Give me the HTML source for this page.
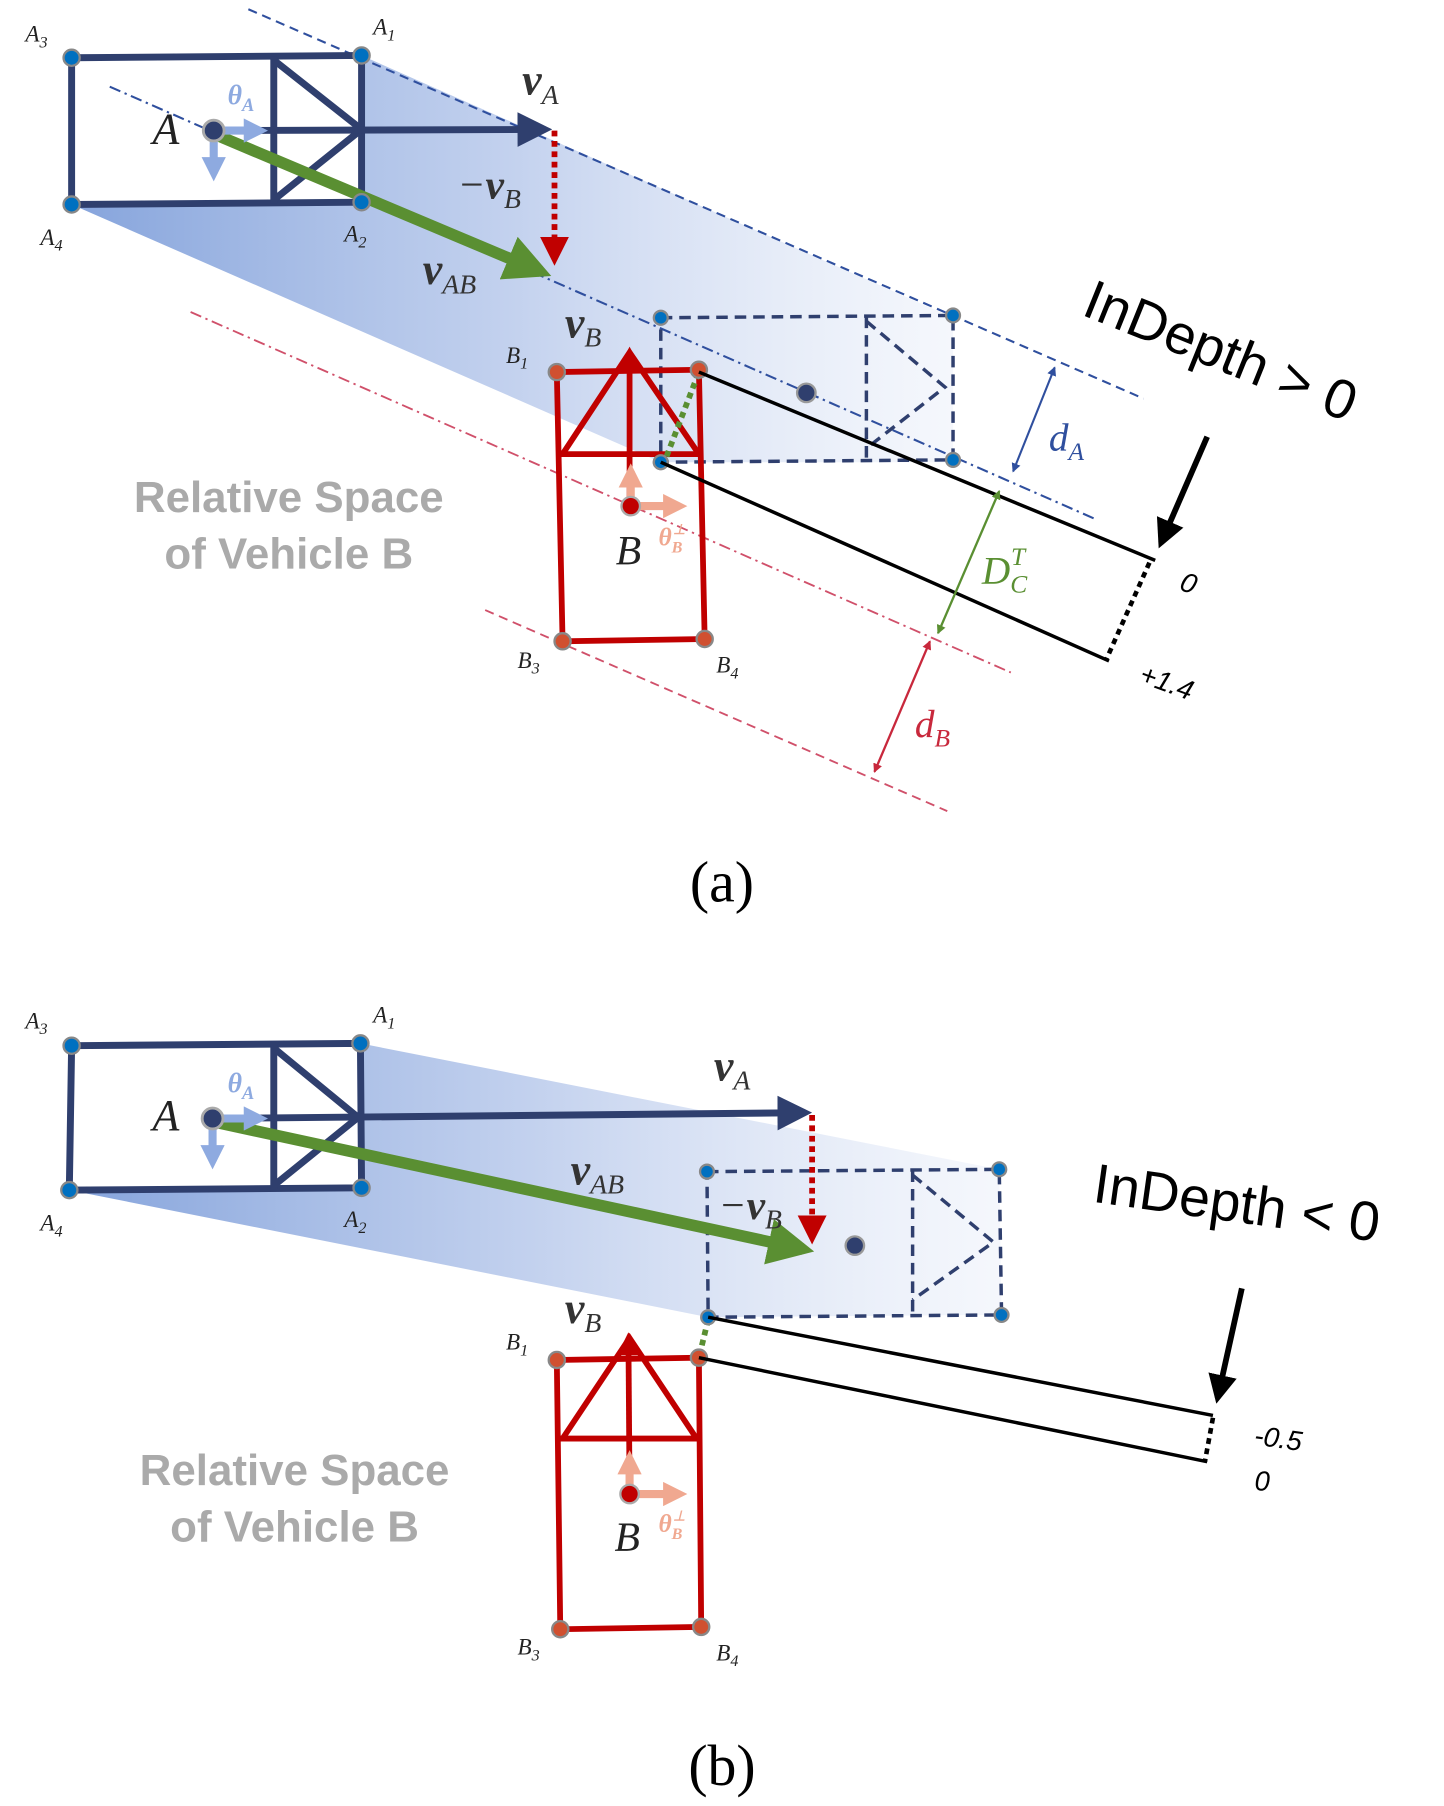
<!DOCTYPE html>
<html><head><meta charset="utf-8"><style>
html,body{margin:0;padding:0;background:#fff;}
svg{display:block;}
text{font-family:"Liberation Serif",serif;}
.s{font-family:"Liberation Sans",sans-serif;}
</style></head><body>
<svg width="1444" height="1806" viewBox="0 0 1250 1563" preserveAspectRatio="none" xmlns="http://www.w3.org/2000/svg">
<defs>
<linearGradient id="ga" x1="0" y1="0" x2="1" y2="0">
<stop offset="0" stop-color="#7f9fda" stop-opacity="0.95"/>
<stop offset="0.5" stop-color="#b4c6ea" stop-opacity="0.8"/>
<stop offset="1" stop-color="#e6ecf8" stop-opacity="0.4"/>
</linearGradient>
<marker id="mNavy" markerWidth="5" markerHeight="5" refX="4" refY="2.5" orient="auto" markerUnits="strokeWidth"><path d="M0,0 L5,2.5 L0,5z" fill="#2f3f6e"/></marker>
<marker id="mGreen" markerWidth="4" markerHeight="4" refX="3" refY="2" orient="auto" markerUnits="strokeWidth"><path d="M0,0 L4,2 L0,4z" fill="#5a8f32"/></marker>
<marker id="mRed" markerWidth="5" markerHeight="5" refX="4" refY="2.5" orient="auto" markerUnits="strokeWidth"><path d="M0,0 L5,2.5 L0,5z" fill="#c00000"/></marker>
<marker id="mRedB" markerWidth="4" markerHeight="4" refX="3" refY="2" orient="auto" markerUnits="strokeWidth"><path d="M0,0 L4,2 L0,4z" fill="#c00000"/></marker>
<marker id="mLb" markerWidth="3" markerHeight="3" refX="2" refY="1.5" orient="auto" markerUnits="strokeWidth"><path d="M0,0 L3,1.5 L0,3z" fill="#8eaae0"/></marker>
<marker id="mPk" markerWidth="3" markerHeight="3" refX="2" refY="1.5" orient="auto" markerUnits="strokeWidth"><path d="M0,0 L3,1.5 L0,3z" fill="#f0a890"/></marker>
<marker id="mBlk" markerWidth="5" markerHeight="5" refX="4" refY="2.5" orient="auto" markerUnits="strokeWidth"><path d="M0,0 L5,2.5 L0,5z" fill="#000"/></marker>
<marker id="dBlue" markerWidth="8" markerHeight="8" refX="7" refY="4" orient="auto-start-reverse" markerUnits="userSpaceOnUse"><path d="M0,0 L8,4 L0,8z" fill="#2f4f9e"/></marker>
<marker id="dGreen" markerWidth="8" markerHeight="8" refX="7" refY="4" orient="auto-start-reverse" markerUnits="userSpaceOnUse"><path d="M0,0 L8,4 L0,8z" fill="#5a8f32"/></marker>
<marker id="dRed" markerWidth="8" markerHeight="8" refX="7" refY="4" orient="auto-start-reverse" markerUnits="userSpaceOnUse"><path d="M0,0 L8,4 L0,8z" fill="#c8283c"/></marker>
</defs>

<!-- ========== PANEL A ========== -->
<polygon points="313,48 825,275 825,400 572,400 62,177 313,175" fill="url(#ga)"/>
<line x1="215" y1="8" x2="990" y2="345" stroke="#2f4f9e" stroke-width="1.8" stroke-dasharray="8,5"/>
<line x1="95" y1="75" x2="950" y2="450" stroke="#2f4f9e" stroke-width="1.8" stroke-dasharray="10,4,2,4"/>
<line x1="165" y1="270" x2="875" y2="582" stroke="#d0506a" stroke-width="1.6" stroke-dasharray="10,4,2,4"/>
<line x1="420" y1="528" x2="820" y2="702" stroke="#d0506a" stroke-width="1.6" stroke-dasharray="8,5"/>

<g fill="none" stroke="#2f3f6e" stroke-width="3" stroke-dasharray="10,6">
<polygon points="572,275 825,273 825,398 572,400"/>
<line x1="750" y1="274" x2="750" y2="398"/>
<polyline points="750,278 818,335 750,388"/>
</g>
<circle cx="698" cy="340" r="8" fill="#2f3f6e" stroke="#999" stroke-width="2"/>

<g fill="none" stroke="#2f3f6e" stroke-width="6">
<polygon points="62,50 313,48 313,175 62,177"/>
<line x1="237" y1="49" x2="237" y2="176"/>
<polyline points="237,52 313,112 237,173"/>
</g>
<line x1="185" y1="113" x2="472" y2="112" stroke="#2f3f6e" stroke-width="6" marker-end="url(#mNavy)"/>
<line x1="480" y1="113" x2="480" y2="225" stroke="#c00000" stroke-width="5" stroke-dasharray="5,4" marker-end="url(#mRed)"/>
<line x1="190" y1="118" x2="468" y2="235" stroke="#5a8f32" stroke-width="10" marker-end="url(#mGreen)"/>
<line x1="190" y1="113" x2="225" y2="113" stroke="#8eaae0" stroke-width="7" marker-end="url(#mLb)"/>
<line x1="185" y1="118" x2="185" y2="150" stroke="#8eaae0" stroke-width="7" marker-end="url(#mLb)"/>
<circle cx="185" cy="113" r="9" fill="#2f3f6e" stroke="#aaa" stroke-width="2.5"/>
<g fill="#0070c0" stroke="#888" stroke-width="2">
<circle cx="62" cy="50" r="7"/><circle cx="313" cy="48" r="7"/><circle cx="313" cy="175" r="7"/><circle cx="62" cy="177" r="7"/>
<circle cx="572" cy="275" r="6"/><circle cx="825" cy="273" r="6"/><circle cx="825" cy="398" r="6"/><circle cx="572" cy="400" r="6"/>
</g>
<g font-style="italic" fill="#222">
<text x="22" y="36" font-size="20">A<tspan font-size="14" dy="5">3</tspan></text>
<text x="323" y="30" font-size="20">A<tspan font-size="14" dy="5">1</tspan></text>
<text x="35" y="212" font-size="20">A<tspan font-size="14" dy="5">4</tspan></text>
<text x="298" y="209" font-size="20">A<tspan font-size="14" dy="5">2</tspan></text>
<text x="132" y="124" font-size="38">A</text>
<text x="197" y="90" font-size="24" font-weight="bold" fill="#8eaae0">θ<tspan font-size="16" dy="6">A</tspan></text>
<text x="452" y="82" font-size="38" font-weight="bold" fill="#333">v<tspan font-size="24" dy="8" font-weight="normal">A</tspan></text>
<text x="396" y="172" font-size="36" fill="#333">−<tspan font-weight="bold">v</tspan><tspan font-size="24" dy="8">B</tspan></text>
<text x="366" y="246" font-size="38" font-weight="bold" fill="#333">v<tspan font-size="24" dy="8" font-weight="normal">AB</tspan></text>
<text x="489" y="292" font-size="38" font-weight="bold" fill="#333">v<tspan font-size="24" dy="8" font-weight="normal">B</tspan></text>
<text x="438" y="314" font-size="20">B<tspan font-size="14" dy="5">1</tspan></text>
<text x="448" y="578" font-size="20">B<tspan font-size="14" dy="5">3</tspan></text>
<text x="620" y="582" font-size="20">B<tspan font-size="14" dy="5">4</tspan></text>
<text x="533" y="488" font-size="36">B</text>
<text x="570" y="472" font-size="22" font-weight="bold" fill="#f0a890">θ<tspan font-size="14" dy="6">B</tspan><tspan font-size="12" dx="-8" dy="-16">⊥</tspan></text>
<text x="908" y="390" font-size="34" fill="#2f4f9e">d<tspan font-size="22" dy="8">A</tspan></text>
<text x="850" y="505" font-size="34" fill="#5a8f32">D<tspan font-size="22" dy="8">C</tspan><tspan font-size="22" dx="-14" dy="-24">T</tspan></text>
<text x="792" y="638" font-size="34" fill="#c8283c">d<tspan font-size="22" dy="8">B</tspan></text>
</g>

<g fill="none" stroke="#c00000" stroke-width="5">
<polygon points="482,322 605,320 610,553 487,555"/>
<line x1="484" y1="393" x2="607" y2="393"/>
<polyline points="487,393 545,305 605,393"/>
</g>
<line x1="545" y1="440" x2="545" y2="305" stroke="#c00000" stroke-width="5" marker-end="url(#mRedB)"/>
<line x1="577" y1="395" x2="605" y2="322" stroke="#5a8f32" stroke-width="5" stroke-dasharray="5,4"/>
<line x1="546" y1="436" x2="546" y2="408" stroke="#f0a890" stroke-width="7" marker-end="url(#mPk)"/>
<line x1="550" y1="438" x2="588" y2="438" stroke="#f0a890" stroke-width="7" marker-end="url(#mPk)"/>
<circle cx="546" cy="438" r="8" fill="#c00000" stroke="#aaa" stroke-width="2"/>
<g fill="#d05030" stroke="#888" stroke-width="2">
<circle cx="482" cy="322" r="7"/><circle cx="605" cy="320" r="7"/><circle cx="487" cy="555" r="7"/><circle cx="610" cy="553" r="7"/>
</g>
<circle cx="572" cy="400" r="6" fill="#0070c0" stroke="#888" stroke-width="2"/>

<line x1="605" y1="322" x2="1000" y2="485" stroke="#000" stroke-width="3"/>
<line x1="572" y1="400" x2="960" y2="572" stroke="#000" stroke-width="3"/>
<line x1="995" y1="487" x2="958" y2="570" stroke="#000" stroke-width="4" stroke-dasharray="5,4"/>
<line x1="1045" y1="378" x2="1005" y2="470" stroke="#000" stroke-width="5" marker-end="url(#mBlk)"/>
<line x1="913" y1="318" x2="877" y2="408" stroke="#2f4f9e" stroke-width="1.8" marker-start="url(#dBlue)" marker-end="url(#dBlue)"/>
<line x1="865" y1="425" x2="812" y2="548" stroke="#5a8f32" stroke-width="2" marker-start="url(#dGreen)" marker-end="url(#dGreen)"/>
<line x1="805" y1="555" x2="757" y2="668" stroke="#c8283c" stroke-width="2" marker-start="url(#dRed)" marker-end="url(#dRed)"/>
<g class="s" font-style="italic" fill="#000">
<text x="1020" y="510" font-size="24" class="s" transform="rotate(20 1020 510)">0</text>
<text x="985" y="590" font-size="24" class="s" transform="rotate(20 985 590)">+1.4</text>
<text x="935" y="272" font-size="48" class="s" font-style="normal" transform="rotate(22 935 272)">InDepth &gt; 0</text>
</g>
<text x="250" y="443" font-size="38" class="s" font-weight="bold" fill="#aaa" text-anchor="middle">Relative Space</text>
<text x="250" y="492" font-size="38" class="s" font-weight="bold" fill="#aaa" text-anchor="middle">of Vehicle B</text>
<text x="625" y="780" font-size="50" text-anchor="middle">(a)</text>

<!-- ========== PANEL B ========== -->
<polygon points="312,903 865,1012 867,1138 613,1140 60,1030 313,1028" fill="url(#ga)"/>
<g fill="none" stroke="#2f3f6e" stroke-width="3" stroke-dasharray="10,6">
<polygon points="612,1014 865,1012 867,1138 613,1140"/>
<line x1="790" y1="1013" x2="790" y2="1139"/>
<polyline points="790,1017 860,1075 790,1125"/>
</g>
<circle cx="740" cy="1078" r="8" fill="#2f3f6e" stroke="#999" stroke-width="2"/>
<g fill="none" stroke="#2f3f6e" stroke-width="6">
<polygon points="62,905 312,903 313,1028 60,1030"/>
<line x1="237" y1="904" x2="237" y2="1029"/>
<polyline points="237,907 310,967 237,1026"/>
</g>
<line x1="184" y1="968" x2="697" y2="963" stroke="#2f3f6e" stroke-width="6" marker-end="url(#mNavy)"/>
<line x1="703" y1="965" x2="703" y2="1072" stroke="#c00000" stroke-width="5" stroke-dasharray="5,4" marker-end="url(#mRed)"/>
<line x1="190" y1="972" x2="695" y2="1081" stroke="#5a8f32" stroke-width="10" marker-end="url(#mGreen)"/>
<line x1="189" y1="968" x2="225" y2="968" stroke="#8eaae0" stroke-width="7" marker-end="url(#mLb)"/>
<line x1="184" y1="973" x2="184" y2="1005" stroke="#8eaae0" stroke-width="7" marker-end="url(#mLb)"/>
<circle cx="184" cy="968" r="9" fill="#2f3f6e" stroke="#aaa" stroke-width="2.5"/>
<g fill="#0070c0" stroke="#888" stroke-width="2">
<circle cx="62" cy="905" r="7"/><circle cx="312" cy="903" r="7"/><circle cx="313" cy="1028" r="7"/><circle cx="60" cy="1030" r="7"/>
<circle cx="612" cy="1014" r="6"/><circle cx="865" cy="1012" r="6"/><circle cx="867" cy="1138" r="6"/>
</g>
<g fill="none" stroke="#c00000" stroke-width="5">
<polygon points="482,1177 605,1175 607,1408 485,1410"/>
<line x1="484" y1="1245" x2="606" y2="1245"/>
<polyline points="487,1245 545,1158 603,1245"/>
</g>
<line x1="545" y1="1293" x2="544" y2="1158" stroke="#c00000" stroke-width="5" marker-end="url(#mRedB)"/>
<line x1="613" y1="1142" x2="605" y2="1175" stroke="#5a8f32" stroke-width="5" stroke-dasharray="5,4"/>
<line x1="545" y1="1290" x2="545" y2="1262" stroke="#f0a890" stroke-width="7" marker-end="url(#mPk)"/>
<line x1="550" y1="1293" x2="588" y2="1293" stroke="#f0a890" stroke-width="7" marker-end="url(#mPk)"/>
<circle cx="545" cy="1293" r="8" fill="#c00000" stroke="#aaa" stroke-width="2"/>
<g fill="#d05030" stroke="#888" stroke-width="2">
<circle cx="482" cy="1177" r="7"/><circle cx="605" cy="1175" r="7"/><circle cx="485" cy="1410" r="7"/><circle cx="607" cy="1408" r="7"/>
</g>
<circle cx="613" cy="1140" r="6" fill="#0070c0" stroke="#888" stroke-width="2"/>
<line x1="613" y1="1140" x2="1050" y2="1225" stroke="#000" stroke-width="3"/>
<line x1="605" y1="1175" x2="1045" y2="1265" stroke="#000" stroke-width="3"/>
<line x1="1050" y1="1227" x2="1043" y2="1265" stroke="#000" stroke-width="4" stroke-dasharray="5,4"/>
<line x1="1075" y1="1115" x2="1054" y2="1210" stroke="#000" stroke-width="5" marker-end="url(#mBlk)"/>
<g font-style="italic" fill="#222">
<text x="22" y="890" font-size="20">A<tspan font-size="14" dy="5">3</tspan></text>
<text x="323" y="885" font-size="20">A<tspan font-size="14" dy="5">1</tspan></text>
<text x="35" y="1065" font-size="20">A<tspan font-size="14" dy="5">4</tspan></text>
<text x="298" y="1062" font-size="20">A<tspan font-size="14" dy="5">2</tspan></text>
<text x="132" y="978" font-size="38">A</text>
<text x="197" y="945" font-size="24" font-weight="bold" fill="#8eaae0">θ<tspan font-size="16" dy="6">A</tspan></text>
<text x="618" y="935" font-size="38" font-weight="bold" fill="#333">v<tspan font-size="24" dy="8" font-weight="normal">A</tspan></text>
<text x="494" y="1025" font-size="38" font-weight="bold" fill="#333">v<tspan font-size="24" dy="8" font-weight="normal">AB</tspan></text>
<text x="622" y="1055" font-size="36" fill="#333">−<tspan font-weight="bold">v</tspan><tspan font-size="24" dy="8">B</tspan></text>
<text x="489" y="1145" font-size="38" font-weight="bold" fill="#333">v<tspan font-size="24" dy="8" font-weight="normal">B</tspan></text>
<text x="438" y="1168" font-size="20">B<tspan font-size="14" dy="5">1</tspan></text>
<text x="448" y="1432" font-size="20">B<tspan font-size="14" dy="5">3</tspan></text>
<text x="620" y="1437" font-size="20">B<tspan font-size="14" dy="5">4</tspan></text>
<text x="532" y="1342" font-size="36">B</text>
<text x="570" y="1326" font-size="22" font-weight="bold" fill="#f0a890">θ<tspan font-size="14" dy="6">B</tspan><tspan font-size="12" dx="-8" dy="-16">⊥</tspan></text>
</g>
<g class="s" font-style="italic" fill="#000">
<text x="1085" y="1250" font-size="24" class="s" transform="rotate(8 1085 1250)">-0.5</text>
<text x="1086" y="1290" font-size="24" class="s">0</text>
</g>
<text x="945" y="1040" font-size="48" class="s" fill="#000" transform="rotate(8 945 1040)">InDepth &lt; 0</text>
<text x="255" y="1285" font-size="38" class="s" font-weight="bold" fill="#aaa" text-anchor="middle">Relative Space</text>
<text x="255" y="1334" font-size="38" class="s" font-weight="bold" fill="#aaa" text-anchor="middle">of Vehicle B</text>
<text x="625" y="1545" font-size="50" text-anchor="middle">(b)</text>
</svg>
</body></html>
